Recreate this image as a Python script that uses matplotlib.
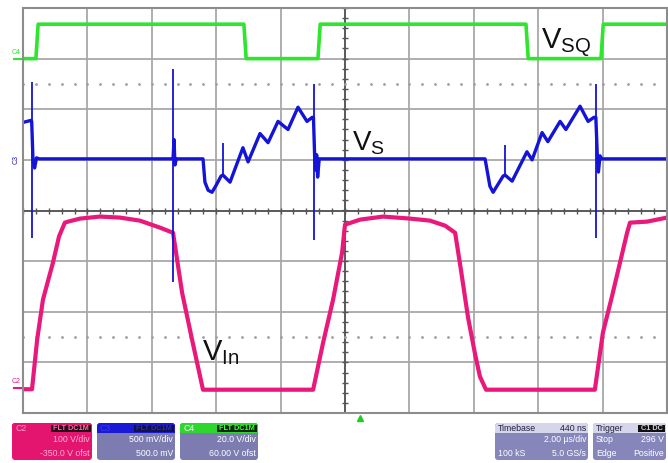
import numpy as np
import matplotlib.pyplot as plt
from matplotlib.patches import FancyBboxPatch, Rectangle

plt.rcParams['font.family'] = ['Liberation Sans', 'DejaVu Sans']

# scope settings
t_per_div = 2.0      # us/div
n_xdiv, n_ydiv = 10, 8

# C4 : V_SQ, 20 V/div, 60 V offset
c4_scale, c4_offset = 20.0, 60.0
vsq_t = [0, 0.40, 0.47, 6.86, 6.93, 9.16, 9.23, 15.62, 15.69, 17.95, 18.02, 20.0]
vsq_v = [0, 0, 13.6, 13.6, 0, 0, 13.6, 13.6, 0, 0, 13.6, 13.6]

# C3 : Vs, 500 mV/div, 500 mV offset
c3_scale, c3_offset = 0.5, 0.5
vs_t = [0, 0.25, 0.27, 0.31, 0.36, 0.42, 0.50, 4.62, 4.66, 4.69, 4.72, 4.76,
        5.59, 5.65, 5.75, 5.87, 6.00, 6.15, 6.21, 6.43, 6.83, 6.99,
        7.36, 7.61, 7.92, 8.23, 8.54, 8.82, 8.98, 9.02, 9.06, 9.08, 9.12, 9.15, 9.20,
        14.35, 14.50, 14.60, 14.91, 14.97, 15.19, 15.65, 15.81, 16.12,
        16.30, 16.68, 16.86, 17.30, 17.55, 17.73, 17.79, 17.84, 17.87, 17.92, 17.97, 20.0]
vs_v = [0.37, 0.39, 0.38, 0.0, -0.08, 0.02, 0.01, 0.01, 0.01, 0.20, -0.05, 0.01,
        0.01, -0.22, -0.30, -0.32, -0.25, -0.16, -0.15, -0.22, 0.12, -0.02,
        0.26, 0.17, 0.38, 0.30, 0.52, 0.38, 0.42, 0.42, 0.01, -0.10, 0.05, -0.17, 0.01,
        0.01, -0.26, -0.32, -0.16, -0.15, -0.21, 0.08, 0.0, 0.27,
        0.18, 0.38, 0.30, 0.53, 0.38, 0.42, 0.42, 0.01, -0.12, 0.04, 0.01, 0.01]
vs_spike_t = [0.28, 4.65, 6.21, 9.04, 14.97, 17.80]
vs_spike_hi = [0.77, 0.90, 0.17, 0.75, 0.15, 0.75]
vs_spike_lo = [-0.77, -1.21, -0.15, -0.79, -0.14, -0.77]

# C2 : Vin, 100 V/div, -350 V offset
c2_scale, c2_offset = 100.0, -350.0
vin_t = [0, 0.28, 0.44, 0.62, 0.93, 1.12, 1.30, 1.40, 1.77, 2.39, 3.01, 3.63, 4.26,
         4.66, 4.94, 5.25, 5.59, 9.01, 9.32, 9.63, 9.91, 10.0, 10.47, 11.18, 12.02,
         12.64, 13.11, 13.42, 13.60, 13.82, 14.04, 14.19, 14.38, 17.76, 18.01, 18.29,
         18.54, 18.76, 18.85, 19.38, 20.0]
vin_v = [-3, -3, 95, 174, 247, 299, 326, 328, 334, 338, 336, 330, 316,
         306, 188, 95, -4, -4, 89, 174, 267, 322, 332, 338, 334,
         330, 320, 306, 233, 139, 66, 22, -4, -4, 109, 180,
         247, 306, 326, 328, 336]

green, blue, pink = '#2ee62e', '#1414d8', '#e8197a'


def to_div(v, scale, offset):
    return (np.asarray(v, dtype=float) + offset) / scale


fig = plt.figure(figsize=(6.68, 4.63), dpi=100)

# overlay for the info boxes (figure pixel coordinates)
ov = fig.add_axes([0, 0, 1, 1])
ov.set_xlim(0, 668)
ov.set_ylim(463, 0)
ov.axis('off')

ax = fig.add_axes([23 / 668, 50 / 463, 644 / 668, 405 / 463])
ax.set_xlim(0, n_xdiv * t_per_div)
ax.set_ylim(-n_ydiv / 2, n_ydiv / 2)
ax.set_xticks(np.arange(0, n_xdiv + 1) * t_per_div)
ax.set_yticks(np.arange(-n_ydiv / 2, n_ydiv / 2 + 1))
ax.tick_params(length=0, labelbottom=False, labelleft=False)
ax.grid(True, color='#a8a8a8', lw=1.3)
for s in ax.spines.values():
    s.set_color('#8c8c8c')
    s.set_linewidth(1.5)

# centre cross with minor ticks
ax.axhline(0, color='#555555', lw=1.3)
ax.axvline(10, color='#555555', lw=1.3)
tick_t = np.arange(0, 20.01, 0.4)
tick_y = np.arange(-4, 4.01, 0.2)
ax.plot(tick_t, np.zeros_like(tick_t), ls='none', marker='|', ms=5, color='#555555', mew=1)
ax.plot(np.full_like(tick_y, 10), tick_y, ls='none', marker='_', ms=5, color='#555555', mew=1)
for yd in (2.5, -2.5):
    ax.plot(tick_t, np.full_like(tick_t, yd), ls='none', marker='.', ms=2, color='#a0a0a0')

# traces
ax.plot(vsq_t, to_div(vsq_v, c4_scale, c4_offset), color=green, lw=2.6)
ax.plot(vin_t, to_div(vin_v, c2_scale, c2_offset), color=pink, lw=3)
ax.plot(vs_t, to_div(vs_v, c3_scale, c3_offset), color=blue, lw=2.4)
ax.vlines(vs_spike_t, to_div(vs_spike_lo, c3_scale, c3_offset),
          to_div(vs_spike_hi, c3_scale, c3_offset), color=blue, lw=1.3)

# channel ground markers
ytr = ax.get_yaxis_transform()
ax.text(-0.004, to_div(0, c4_scale, c4_offset) + 0.05, 'C4', transform=ytr, ha='right',
        va='bottom', fontsize=5, color=green)
ax.plot([-0.014, 0], [to_div(0, c4_scale, c4_offset)] * 2, transform=ytr, color=green,
        lw=1.5, clip_on=False)
ax.text(-0.005, to_div(0, c3_scale, c3_offset), 'C3', transform=ytr, ha='right',
        va='center', fontsize=5, color=blue, rotation=90)
ax.text(-0.004, to_div(0, c2_scale, c2_offset) + 0.05, 'C2', transform=ytr, ha='right',
        va='bottom', fontsize=5, color=pink)
ax.plot([-0.014, 0], [to_div(0, c2_scale, c2_offset)] * 2, transform=ytr, color=pink,
        lw=1.5, clip_on=False)

# trigger marker
ax.plot([10.47], [-4.1], marker='^', ms=5, color='#22cc22', clip_on=False)

# signal names
ax.text(16.09, 3.18, r'V$_\mathregular{SQ}$', fontsize=21, color='#111111')
ax.text(10.22, 1.2, r'V$_\mathregular{S}$', fontsize=20, color='#111111')
ax.text(5.56, -2.96, r'V$_\mathregular{In}$', fontsize=21, color='#111111')


def info_box(x, w, head_col, body_col, name, name_col, badge, badge_col, badge_txt,
             rows, txt_col, head_right=None):
    y0, h, hh = 423, 37, 10
    ov.add_patch(FancyBboxPatch((x, y0), w, h, boxstyle='round,pad=0,rounding_size=3',
                                fc=body_col, ec='none'))
    ov.add_patch(FancyBboxPatch((x, y0), w, hh, boxstyle='round,pad=0,rounding_size=3',
                                fc=head_col, ec='none'))
    ov.add_patch(Rectangle((x, y0 + hh - 3), w, 3, fc=head_col, ec='none'))
    ov.text(x + 3, y0 + hh / 2 + 0.5, name, fontsize=6.3, color=name_col, va='center')
    if badge:
        bw = 6 + 4.2 * len(badge)
        ov.add_patch(Rectangle((x + w - bw - 1, y0 + 1.5), bw, hh - 3, fc=badge_col, ec='none'))
        ov.text(x + w - 3, y0 + hh / 2 + 0.5, badge, fontsize=5.3, color=badge_txt,
                va='center', ha='right', fontweight='bold')
    if head_right:
        ov.text(x + w - 2, y0 + hh / 2 + 0.5, head_right, fontsize=6.3, color=name_col,
                va='center', ha='right')
    for i, (lt, rt) in enumerate(rows):
        yy = y0 + 17 + i * 13
        if lt:
            ov.text(x + 3, yy, lt, fontsize=6.3, color=txt_col, va='center')
        if rt:
            ov.text(x + w - 2, yy, rt, fontsize=6.3, color=txt_col, va='center', ha='right')


slate = '#7c7cb0'
info_box(12, 80, '#e3156f', '#e3156f', 'C2', '#ff9cc9', 'FLT DC1M', '#2a0a18', '#ff6aa8',
         [('', '100 V/div'), ('', '-350.0 V ofst')], '#ffb0d4')
info_box(97, 78, '#1a1ad6', slate, 'C3', '#3a3af0', 'FLT DC1M', '#12124a', '#2a2ac0',
         [('', '500 mV/div'), ('', '500.0 mV')], 'white')
info_box(180, 78, '#2ed62e', slate, 'C4', 'white', 'FLT DC1M', '#0a2a0a', '#40ff40',
         [('', '20.0 V/div'), ('', '60.00 V ofst')], 'white')
info_box(495, 93, '#d6d6ea', '#8686ba', 'Timebase', '#202040', None, None, None,
         [('', '2.00 \u00b5s/div'), ('100 kS', '5.0 GS/s')], 'white', head_right='440 ns')
info_box(593, 73, '#d6d6ea', '#8686ba', 'Trigger', '#202040', 'C1 DC', '#101010', '#d0d0d0',
         [('Stop', '296 V'), ('Edge', 'Positive')], 'white')

fig.savefig('out.png', dpi=100)
